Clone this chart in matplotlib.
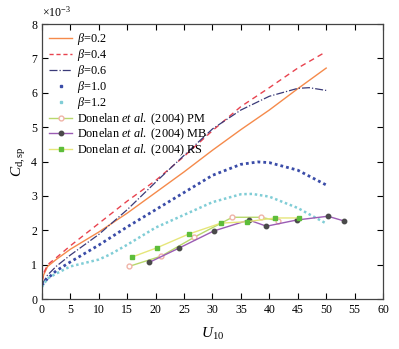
import numpy as np
import matplotlib.pyplot as plt
from matplotlib.lines import Line2D

plt.rcParams['font.family'] = 'Liberation Serif'
plt.rcParams['mathtext.fontset'] = 'custom'
plt.rcParams['mathtext.rm'] = 'Liberation Serif'
plt.rcParams['mathtext.it'] = 'Liberation Serif:italic'
plt.rcParams['font.size'] = 8.5

# beta curves (U10, Cd x 1e3)
u_b02 = [0, 0.3, 1, 2.5, 5, 10, 15, 20, 25, 30, 35, 40, 45, 50]
c_b02 = [0.45, 0.7, 0.95, 1.15, 1.45, 1.95, 2.5, 3.1, 3.7, 4.33, 4.93, 5.5, 6.12, 6.72]

u_b04 = [0, 0.3, 1, 2.5, 5, 10, 15, 20, 25, 30, 35, 40, 45, 49.5]
c_b04 = [0.5, 0.75, 1.0, 1.2, 1.55, 2.2, 2.85, 3.45, 4.15, 4.9, 5.6, 6.15, 6.72, 7.15]

u_b06 = [0, 1, 2.5, 5, 10, 15, 20, 25, 30, 35, 40, 45, 47, 50]
c_b06 = [0.42, 0.7, 0.95, 1.28, 1.88, 2.6, 3.4, 4.18, 4.95, 5.5, 5.9, 6.13, 6.15, 6.07]

u_b10 = [0, 1, 2.5, 5, 10, 15, 20, 25, 30, 35, 38, 40, 45, 50]
c_b10 = [0.4, 0.6, 0.82, 1.08, 1.57, 2.1, 2.6, 3.1, 3.6, 3.92, 3.99, 3.97, 3.75, 3.32]

u_b12 = [0, 1, 2.5, 5, 7.5, 10, 12, 15, 20, 25, 30, 35, 37, 40, 45, 50]
c_b12 = [0.35, 0.6, 0.74, 0.95, 1.05, 1.15, 1.3, 1.58, 2.08, 2.45, 2.82, 3.05, 3.06, 2.98, 2.65, 2.2]

# Donelan et al. (2004)
u_pm = [15.3, 21.0, 26.8, 33.5, 38.5, 41.5]
c_pm = [0.95, 1.25, 1.80, 2.38, 2.38, 2.28]

u_mb = [18.9, 24.2, 30.2, 36.4, 39.5, 44.8, 50.3, 53.2]
c_mb = [1.07, 1.49, 1.98, 2.30, 2.12, 2.30, 2.41, 2.27]

u_rs = [15.8, 20.2, 25.8, 31.5, 36.0, 41.0, 45.3]
c_rs = [1.22, 1.49, 1.89, 2.21, 2.25, 2.36, 2.36]

fig = plt.figure(figsize=(3.99, 3.49), dpi=100)
ax = fig.add_axes([0.105, 0.143, 0.855, 0.788])

blue = '#3a4ca8'
cyan = '#80cdd6'

ax.plot(u_b02, c_b02, '-', color='#f58a4b', lw=1)
ax.plot(u_b04, c_b04, '--', color='#e8434f', lw=1, dashes=(4, 3))
ax.plot(u_b06, c_b06, '-.', color='#3a3a78', lw=0.9)
ax.plot(u_b10, c_b10, linestyle=(0, (1, 1.1)), color=blue, lw=2.0)
ax.plot(u_b12, c_b12, linestyle=(0, (1, 1.1)), color=cyan, lw=1.8)
ax.plot(u_pm, c_pm, '-o', color='#b8d86c', lw=1, ms=3.5, mfc='white', mec='#f0b4a8')
ax.plot(u_mb, c_mb, '-o', color='#9b5cb4', lw=1, ms=3.2, mfc='#4a4a4a', mec='#4a4a4a')
ax.plot(u_rs, c_rs, '-s', color='#e6e67a', lw=1, ms=3.2, mfc='#5dbd3a', mec='#5dbd3a')

handles = [
    Line2D([], [], color='#f58a4b', lw=1),
    Line2D([], [], color='#e8434f', lw=1, ls='--', dashes=(3, 2)),
    Line2D([], [], color='#3a3a78', lw=0.9, ls='-.'),
    Line2D([], [], color=blue, ls='none', marker='s', ms=1.8),
    Line2D([], [], color=cyan, ls='none', marker='s', ms=1.8),
    Line2D([], [], color='#b8d86c', lw=1, marker='o', ms=3.5, mfc='white', mec='#f0b4a8'),
    Line2D([], [], color='#9b5cb4', lw=1, marker='o', ms=3.2, mfc='#4a4a4a', mec='#4a4a4a'),
    Line2D([], [], color='#e6e67a', lw=1, marker='s', ms=3.2, mfc='#5dbd3a', mec='#5dbd3a'),
]
labels = [r'$\it{\beta}$=0.2', r'$\it{\beta}$=0.4', r'$\it{\beta}$=0.6',
          r'$\it{\beta}$=1.0', r'$\it{\beta}$=1.2',
          r'Donelan $\it{et}$ $\it{al.}$ (2004) PM',
          r'Donelan $\it{et}$ $\it{al.}$ (2004) MB',
          r'Donelan $\it{et}$ $\it{al.}$ (2004) RS']

ax.set_xlim(0, 60)
ax.set_ylim(0, 8)
ax.set_xticks(np.arange(0, 61, 5))
ax.set_yticks(np.arange(0, 9, 1))
ax.tick_params(direction='in', top=True, right=True, length=4, width=0.8, labelsize=8.5)
for s in ax.spines.values():
    s.set_linewidth(0.9)
    s.set_color('#444444')

ax.set_xlabel(r'$U_{10}$', fontsize=11, labelpad=7)
ax.set_ylabel(r'$C_{\rm d,sp}$', fontsize=11, labelpad=2)
ax.text(0.0, 1.015, r'$\times$10$^{-3}$', transform=ax.transAxes, fontsize=8.5,
        ha='left', va='bottom')

ax.legend(handles, labels, loc='upper left', frameon=False, numpoints=1,
          handlelength=1.9, handletextpad=0.35, labelspacing=0.0,
          borderaxespad=0.4, borderpad=0.2, fontsize=8.8)

fig.savefig('out.png', dpi=100)
